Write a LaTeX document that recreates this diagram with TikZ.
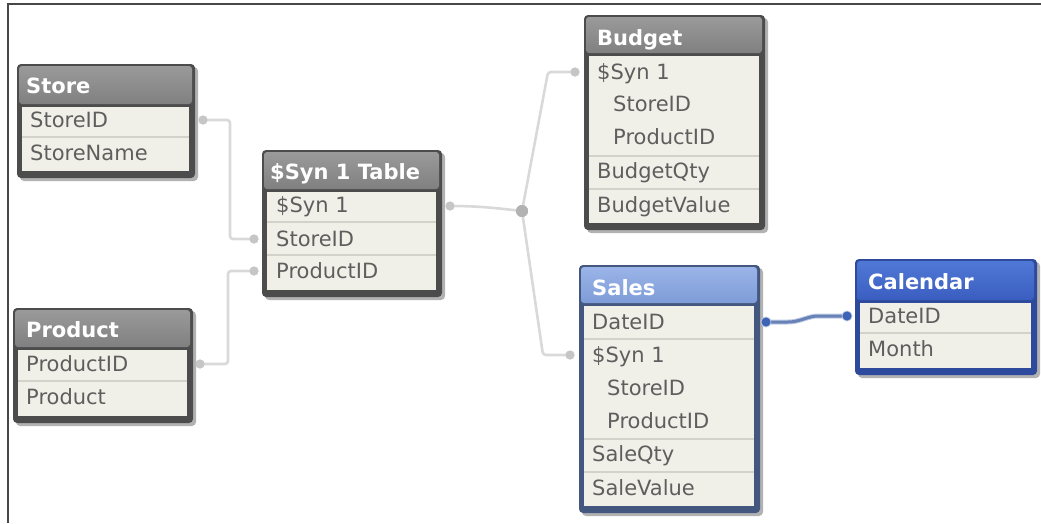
\documentclass[tikz,border=0pt]{standalone}
\usepackage{fontspec}
\setmainfont{DejaVu Sans}
\usetikzlibrary{calc}
\definecolor{bodyc}{HTML}{F1F0E8}
\definecolor{fieldtxt}{HTML}{5E5E5E}
\definecolor{sepc}{HTML}{D2D2CA}
\definecolor{grayT}{HTML}{9A9A9A}
\definecolor{grayB}{HTML}{808080}
\definecolor{frameG}{HTML}{4C4C4C}
\definecolor{salesT}{HTML}{9AB4E8}
\definecolor{salesB}{HTML}{7E9CD8}
\definecolor{salesF}{HTML}{44577E}
\definecolor{calT}{HTML}{5078D6}
\definecolor{calB}{HTML}{3A5EC0}
\definecolor{calF}{HTML}{2D4A9C}
\definecolor{linkc}{HTML}{D9D9D9}
\definecolor{dotc}{HTML}{C6C6C6}
\definecolor{blinkc}{HTML}{6682B8}
\definecolor{bdotc}{HTML}{3D63B5}
\definecolor{outerc}{HTML}{474747}
\tikzset{
  fld/.style={anchor=west, inner sep=0pt, text=fieldtxt, text height=15pt, text depth=4pt,
              font=\fontsize{21}{21}\selectfont},
  ttl/.style={anchor=west, inner sep=0pt, text=white, text height=15pt, text depth=4pt,
              font=\bfseries\fontsize{21}{21}\selectfont},
  dotn/.style={circle, fill=dotc, inner sep=0pt, minimum size=9pt},
  jdot/.style={circle, fill=dotc!90!black, inner sep=0pt, minimum size=12pt},
  bdot/.style={circle, fill=bdotc, draw=white!70!bdotc, line width=0.6pt, inner sep=0pt, minimum size=10pt},
  link/.style={draw=linkc, line width=2.6pt, rounded corners=3pt},
  blink/.style={draw=blinkc, line width=3pt},
  sepl/.style={draw=sepc, line width=1.2pt},
}
% #1 x1, #2 y1, #3 x2, #4 y2, #5 title bottom, #6 top colour, #7 bottom colour, #8 frame colour
\newcommand{\dbtable}[8]{%
  \fill[black!30, rounded corners=4pt] (#1+3,#2+3) rectangle (#3+3,#4+3);
  \fill[#8, rounded corners=4pt] (#1,#2) rectangle (#3,#4);
  \shade[top color=#6, bottom color=#7, rounded corners=3pt] (#1+2,#2+2) rectangle (#3-3,#5);
  \fill[bodyc] (#1+5,#5+3) rectangle (#3-6,#4-7);
}
\begin{document}
\begin{tikzpicture}[x=1pt, y=-1pt]
\useasboundingbox (0,0) rectangle (1041,523);
% outer frame
\draw[outerc, line width=2.6pt] (8,523) -- (8,4) -- (1041,4);

% tables
\dbtable{17}{64}{195}{178}{104}{grayT}{grayB}{frameG}
\dbtable{262}{150}{442}{297}{189}{grayT}{grayB}{frameG}
\dbtable{13}{308}{193}{423}{347}{grayT}{grayB}{frameG}
\dbtable{584}{15}{765}{230}{53}{grayT}{grayB}{frameG}
\dbtable{579}{265}{760}{513}{303}{salesT}{salesB}{salesF}
\dbtable{855}{259}{1037}{375}{300}{calT}{calB}{calF}

% separators
\draw[sepl] (22,137) -- (189,137);
\draw[sepl] (267,222) -- (436,222);
\draw[sepl] (267,255) -- (436,255);
\draw[sepl] (18,381) -- (187,381);
\draw[sepl] (589,156) -- (759,156);
\draw[sepl] (589,189) -- (759,189);
\draw[sepl] (584,339) -- (754,339);
\draw[sepl] (584,439) -- (754,439);
\draw[sepl] (584,472) -- (754,472);
\draw[sepl] (860,333) -- (1031,333);

% titles
\node[ttl] (tStore) at (26,88) {Store};
\node[ttl] (tSyn) at (270,174) {\$Syn 1 Table};
\node[ttl] (tProduct) at (26,332) {Product};
\node[ttl] (tBudget) at (597,40) {Budget};
\node[ttl] (tSales) at (592,290) {Sales};
\node[ttl] (tCal) at (868,284) {Calendar};

% fields
\node[fld] (fStoreID) at (30,122) {StoreID};
\node[fld] (fStoreName) at (30,155) {StoreName};
\node[fld] (fSynSyn) at (276,207) {\$Syn 1};
\node[fld] (fSynStore) at (276,241) {StoreID};
\node[fld] (fSynProd) at (276,273) {ProductID};
\node[fld] (fProdID) at (26,366) {ProductID};
\node[fld] (fProd) at (26,399) {Product};
\node[fld] (fBSyn) at (597,74) {\$Syn 1};
\node[fld] (fBStore) at (613,106) {StoreID};
\node[fld] (fBProd) at (613,139) {ProductID};
\node[fld] (fBQty) at (597,173) {BudgetQty};
\node[fld] (fBVal) at (597,207) {BudgetValue};
\node[fld] (fSDate) at (592,324) {DateID};
\node[fld] (fSSyn) at (592,357) {\$Syn 1};
\node[fld] (fSStore) at (607,390) {StoreID};
\node[fld] (fSProd) at (607,423) {ProductID};
\node[fld] (fSQty) at (592,456) {SaleQty};
\node[fld] (fSVal) at (592,490) {SaleValue};
\node[fld] (fCDate) at (868,318) {DateID};
\node[fld] (fCMonth) at (868,351) {Month};

% connector end points
\node[dotn] (dStore) at (203,120) {};
\node[dotn] (dSynStore) at (254,239) {};
\node[dotn] (dProd) at (200,364) {};
\node[dotn] (dSynProd) at (254,271) {};
\node[dotn] (dSyn) at (450,206) {};
\node[jdot] (dJ) at (522,211) {};
\node[dotn] (dBudget) at (575,72) {};
\node[dotn] (dSales) at (570,355) {};
\coordinate (cUp) at (548,72);
\coordinate (cDown) at (543,355);

% connectors (drawn, then dots redrawn on top)
\draw[link] (dStore.center) -- ++(27,0) |- (dSynStore.center);
\draw[link] (dProd.center) -- ++(28,0) |- (dSynProd.center);
\draw[link] (dSyn.center) .. controls (480,206) and (495,208) .. (dJ.center);
\draw[link] (dJ.center) -- (cUp) -- (dBudget.center);
\draw[link] (dJ.center) -- (cDown) -- (dSales.center);

\node[dotn] at (dStore) {};
\node[dotn] at (dSynStore) {};
\node[dotn] at (dProd) {};
\node[dotn] at (dSynProd) {};
\node[dotn] at (dSyn) {};
\node[jdot] at (dJ) {};
\node[dotn] at (dBudget) {};
\node[dotn] at (dSales) {};

\node[bdot] (dSDate) at (766,322) {};
\node[bdot] (dCDate) at (847,316) {};
\draw[draw=blinkc!40, line width=5pt] (dSDate.center) -- ++(22,0) .. controls (800,322) and (808,316) .. (818,316) -- (dCDate.center);
\draw[blink] (dSDate.center) -- ++(22,0) .. controls (800,322) and (808,316) .. (818,316) -- (dCDate.center);
\node[bdot] at (dSDate) {};
\node[bdot] at (dCDate) {};
\end{tikzpicture}
\end{document}
